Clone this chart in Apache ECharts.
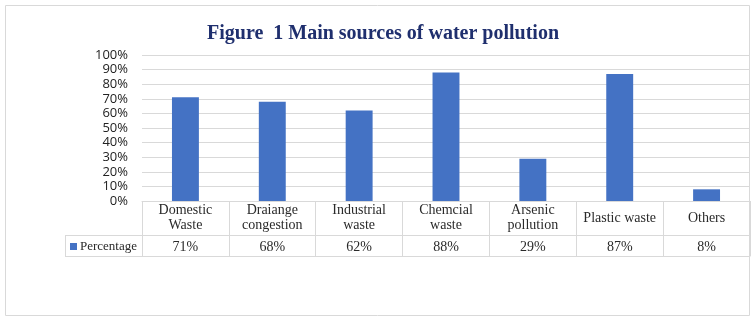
<!DOCTYPE html>
<html>
<head>
<meta charset="utf-8">
<script src="https://cdn.jsdelivr.net/npm/echarts@6/dist/echarts.min.js"></script>
<style>html,body{margin:0;padding:0;background:#fff}#c{width:754px;height:320px}</style>
</head>
<body>
<div id="c"></div>
<script>
var categories = ['Domestic\nWaste', 'Draiange\ncongestion', 'Industrial\nwaste', 'Chemcial\nwaste', 'Arsenic\npollution', 'Plastic waste', 'Others'];
var values = [71, 68, 62, 88, 29, 87, 8];
var yTicks = [0, 10, 20, 30, 40, 50, 60, 70, 80, 90, 100];
var seriesName = 'Percentage';
var titleText = 'Figure  1 Main sources of water pollution';

var chart = echarts.init(document.getElementById('c'));
var lineColor = '#d9d9d9';
var serif = '"Liberation Serif", "Times New Roman", serif';
chart.setOption({
  animation: false,
  title: {
    text: titleText, left: 378, top: 19, textAlign: 'center',
    textStyle: {fontFamily: serif, fontWeight: 'bold', fontSize: 20, color: '#1f2f6e'}
  },
  grid: {left: 142, right: 4, top: 55, bottom: 119},
  xAxis: [{
    type: 'category', data: categories, position: 'bottom',
    axisLine: {show: true, lineStyle: {color: lineColor}},
    axisTick: {show: true, length: 55, lineStyle: {color: lineColor}},
    axisLabel: {fontFamily: serif, fontSize: 14, color: '#2a2a2a', lineHeight: 15, margin: 17, interval: 0,
      verticalAlign: 'middle'}
  }, {
    type: 'category', data: categories, position: 'bottom', offset: 34,
    axisLine: {show: true, lineStyle: {color: lineColor}},
    axisTick: {show: false},
    axisLabel: {fontFamily: serif, fontSize: 14, color: '#2a2a2a', margin: 5, interval: 0,
      formatter: function (v, i) { return values[i] + '%'; }}
  }, {
    type: 'category', data: categories, position: 'bottom', offset: 55,
    axisLine: {show: true, lineStyle: {color: lineColor}},
    axisTick: {show: false}, axisLabel: {show: false}
  }],
  yAxis: {
    type: 'value', min: 0, max: 100, interval: 10,
    axisLine: {show: false}, axisTick: {show: false},
    axisLabel: {formatter: '{value}%', fontSize: 13, color: '#222', margin: 14,
      fontFamily: '"Open Sans", "DejaVu Sans", sans-serif'},
    splitLine: {lineStyle: {color: lineColor}}
  },
  series: [{
    name: seriesName, type: 'bar', data: values, barWidth: '31%',
    itemStyle: {color: '#4472c4'}
  }],
  graphic: [
    {type: 'rect', shape: {x: 5.5, y: 5.5, width: 744, height: 310}, style: {fill: 'none', stroke: lineColor, lineWidth: 1}, silent: true, z: -1},
    {type: 'line', shape: {x1: 65, y1: 235.5, x2: 142, y2: 235.5}, style: {stroke: lineColor, lineWidth: 1}},
    {type: 'line', shape: {x1: 65, y1: 256.5, x2: 142, y2: 256.5}, style: {stroke: lineColor, lineWidth: 1}},
    {type: 'line', shape: {x1: 65.5, y1: 235, x2: 65.5, y2: 257}, style: {stroke: lineColor, lineWidth: 1}},
    {type: 'rect', shape: {x: 70, y: 243, width: 7, height: 7}, style: {fill: '#4472c4'}},
    {type: 'text', x: 80, y: 246.5, style: {text: seriesName, fontFamily: serif, fontSize: 13, fill: '#2a2a2a', textVerticalAlign: 'middle'}}
  ]
});
</script>
</body>
</html>
